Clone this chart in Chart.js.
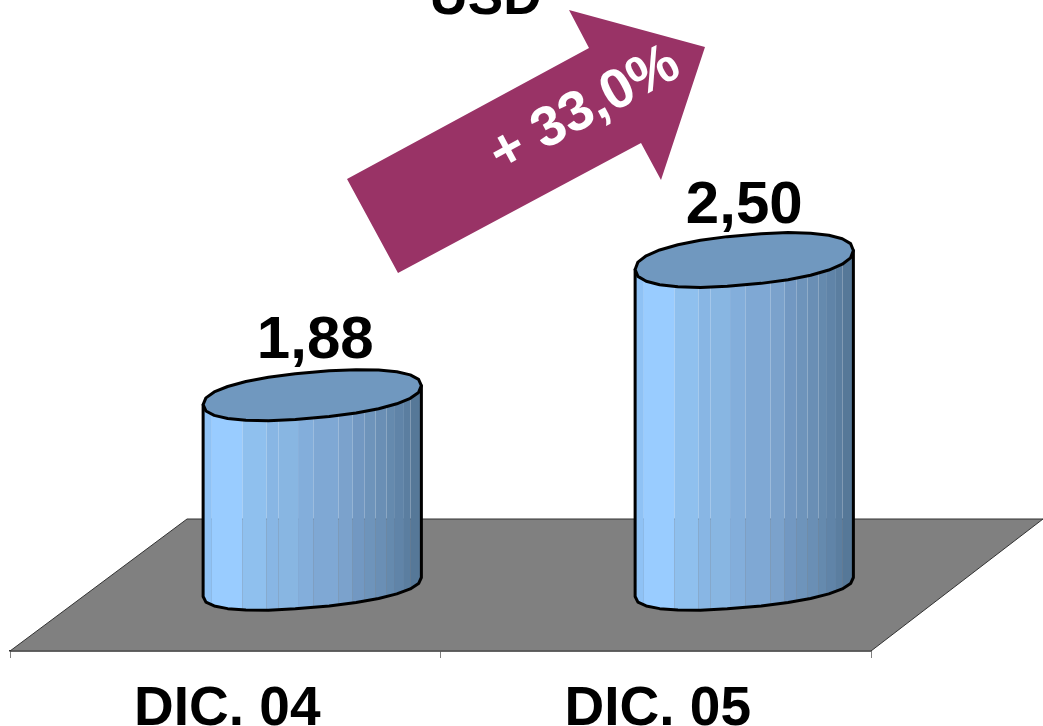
<!DOCTYPE html>
<html><head><meta charset="utf-8">
<style>html,body{margin:0;padding:0;background:#fff;overflow:hidden}#w{position:relative;width:1043px;height:726px}</style>
<script src="https://cdn.jsdelivr.net/npm/chart.js@4"></script>
</head><body><div id="w"><canvas id="c" width="1043" height="726"></canvas></div>
<script>
const categories = ['DIC. 04', 'DIC. 05'];
const values = [1.88, 2.50];
const unitLabel = 'USD';
const growthLabel = '+ 33,0%';
const seamFractions = [0,.04,.18,.29,.345,.435,.505,.62,.685,.74,.79,.84,.875,.92,.95,1];
const stripColors = ['#8fc2f5','#99ccff','#8fc0ee','#88b6e4','#88b6e2','#83aedb','#7fa8d4','#7ba2cc','#7298c2','#6e94bb','#6a8fb5','#658aae','#6084a8','#5b7ea0','#567898'];
const FONT = '"Liberation Sans", Arial, sans-serif';

const depthX = 87, depthY = 64;
function ellipsePoints(cx, cy, a, k, tilt, n){
  const p=[], e=.88;
  for(let i=0;i<n;i++){const t=i/n*2*Math.PI;
    const c=Math.sign(Math.cos(t))*Math.pow(Math.abs(Math.cos(t)),e);
    const s=Math.sign(Math.sin(t))*Math.pow(Math.abs(Math.sin(t)),e);
    p.push([cx+a*c, cy-tilt*c+k*s]);}
  return p;
}
const cylinder = {
  id:'cylinder',
  beforeDatasetsDraw(chart){
    const {ctx,chartArea:a}=chart;
    ctx.save();
    ctx.beginPath();
    ctx.moveTo(a.left,a.bottom);ctx.lineTo(a.left+177,a.bottom-132);
    ctx.lineTo(a.right+172,a.bottom-132);ctx.lineTo(a.right,a.bottom);ctx.closePath();
    ctx.fillStyle='#808080';ctx.fill();
    ctx.strokeStyle='#333';ctx.lineWidth=1;ctx.stroke();
    ctx.restore();
  },
  afterDatasetsDraw(chart){
    const {ctx,chartArea:area}=chart;
    const meta=chart.getDatasetMeta(0);
    meta.data.forEach((bar,i)=>{
      const cx=bar.x+depthX+1.5*i, r=bar.width/2, top=bar.y-depthY, base=area.bottom-depthY;
      const tilt=9.5, kTop=i===0?23:25, kBase=20.5;
      const L=cx-r, R=cx+r;
      ctx.save();
      ctx.beginPath();
      ctx.moveTo(L,top+tilt);
      const basePts=ellipsePoints(cx,base,r,kBase,tilt,26);
      ctx.lineTo(L,base+tilt);
      for(let j=12;j>=0;j--) ctx.lineTo(basePts[j][0],basePts[j][1]);
      ctx.lineTo(R,base-tilt);
      ctx.lineTo(R,top-tilt);
      ctx.closePath();
      ctx.save();ctx.clip();
      for(let s=0;s<stripColors.length;s++){
        const x0=L+seamFractions[s]*2*r, x1=L+seamFractions[s+1]*2*r;
        ctx.fillStyle=stripColors[s];
        ctx.fillRect(x0,top-60,x1-x0,base-top+120);
      }
      ctx.restore();
      ctx.strokeStyle='#000';ctx.lineWidth=3;ctx.lineJoin='round';ctx.stroke();
      const tp=ellipsePoints(cx,top,r,kTop,tilt,26);
      ctx.beginPath();
      tp.forEach((p,j)=>j?ctx.lineTo(p[0],p[1]):ctx.moveTo(p[0],p[1]));
      ctx.closePath();
      ctx.fillStyle='#7098bf';ctx.fill();ctx.stroke();
      ctx.fillStyle='#000';ctx.font='bold 60px '+FONT;ctx.textAlign='center';ctx.textBaseline='alphabetic';
      ctx.fillText(values[i].toFixed(2).replace('.',','),cx+(i===0?3:0),top-37);
      ctx.restore();
    });
    ctx.save();
    ctx.fillStyle='#000';ctx.font='bold 53px '+FONT;ctx.textAlign='center';ctx.textBaseline='alphabetic';
    ctx.fillText(unitLabel,485.5,14);
    const arrow=[[347,179],[398,273],[641,143],[661,180],[705,47],[569,10],[589,48]];
    ctx.beginPath();
    arrow.forEach((p,j)=>j?ctx.lineTo(p[0],p[1]):ctx.moveTo(p[0],p[1]));
    ctx.closePath();ctx.fillStyle='#993366';ctx.fill();
    ctx.translate(585,110);ctx.rotate(-28.5*Math.PI/180);
    ctx.fillStyle='#fff';ctx.font='bold 56px '+FONT;ctx.textAlign='center';ctx.textBaseline='middle';
    ctx.fillText(growthLabel,0,0);
    ctx.restore();
  }
};

new Chart(document.getElementById('c'),{
  type:'bar',
  data:{labels:categories,datasets:[{data:values,backgroundColor:'rgba(0,0,0,0)',borderWidth:0,barPercentage:.507,categoryPercentage:1}]},
  plugins:[cylinder],
  options:{
    responsive:false,animation:false,
    layout:{padding:{left:10,right:172,top:215,bottom:0}},
    plugins:{legend:{display:false},tooltip:{enabled:false}},
    scales:{
      y:{display:false,min:1,max:3},
      x:{
        afterFit(s){s.height=75;},
        border:{color:'#333',width:1.5},
        grid:{drawOnChartArea:false,tickLength:7,color:'#808080',tickColor:'#808080'},
        ticks:{color:'#000',font:{family:'Liberation Sans',size:55,weight:'bold'},padding:19,labelOffset:2,maxRotation:0,autoSkip:false}
      }
    }
  }
});
</script></body></html>
